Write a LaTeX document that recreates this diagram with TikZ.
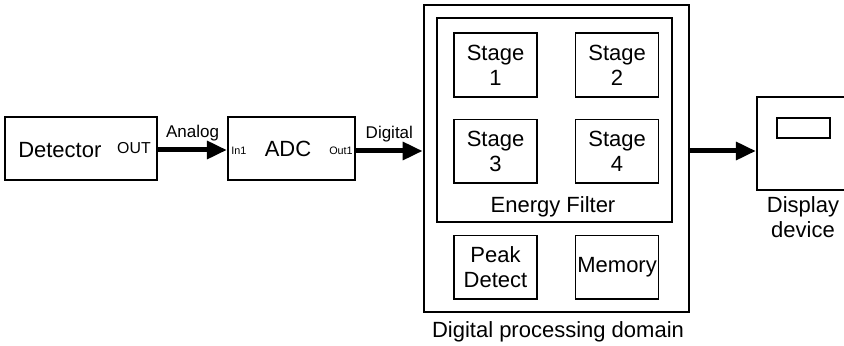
\documentclass[tikz,border=0pt]{standalone}
\usepackage{fontspec}
\setmainfont{Liberation Sans}
\usetikzlibrary{arrows.meta,positioning}

\begin{document}
\begin{tikzpicture}[x=0.75pt,y=-0.75pt]
  \tikzset{
    block/.style={draw, line width=1.6pt, inner sep=0pt, font=\fontsize{16.5}{18.75}\selectfont},
    stagebox/.style={draw, line width=1.2pt, align=center, inner sep=0pt,
      minimum width=62.25pt, minimum height=47.6pt, font=\fontsize{16.5}{18.75}\selectfont},
    port/.style={inner sep=0pt, font=\fontsize{8.1}{9}\selectfont},
    sig/.style={inner sep=0pt, font=\fontsize{12.75}{14}\selectfont},
    caption/.style={inner sep=0pt, align=center, font=\fontsize{16.5}{18.75}\selectfont},
    bigarrow/.style={-{Triangle[length=15pt,width=13pt]}, line width=3.75pt},
  }

  \clip (0,0) rectangle (844,346);

  % source side
  \node[block, minimum width=114pt, minimum height=47.25pt] (det) at (81,148.5) {};
  \node[caption, anchor=west] (dettext) at (18,150) {Detector};
  \node[sig, font=\fontsize{11.9}{13}\selectfont, anchor=east] (detout) at (151,148) {OUT};
  \node[block, minimum width=95.25pt, minimum height=47.25pt] (adc) at (291.5,148.5) {};
  \node[caption] (adctext) at (288,149) {ADC};
  \node[port, anchor=west] (adcin) at (231,151) {In1};
  \node[port, anchor=east] (adcout) at (353,151) {Out1};

  % processing
  \node[draw, line width=2pt, minimum width=198.75pt, minimum height=230.25pt] (main) at (556.5,158.5) {};
  \node[draw, line width=0.8pt, minimum width=176.25pt, minimum height=153pt] (filter) at (554.5,120) {};
  \node[stagebox] (st1) at (495.5,65) {Stage\\1};
  \node[stagebox, right=27.75pt of st1] (st2) {Stage\\2};
  \node[stagebox, below=15.75pt of st1] (st3) {Stage\\3};
  \node[stagebox, right=27.75pt of st3] (st4) {Stage\\4};
  \node[caption] (filtertext) at (553,207) {Energy Filter};
  \node[stagebox, below=38.25pt of st3] (peak) {Peak\\Detect};
  \node[stagebox, right=27.75pt of peak] (mem) {Memory};
  \node[caption] (maintext) at (558,332) {Digital processing domain};

  % display, cut off at the right edge
  \node[block, minimum width=112.5pt, minimum height=69.75pt] (disp) at (832,143.5) {};
  \node[draw, line width=0.8pt, minimum width=39.75pt, minimum height=15pt, inner sep=0pt] (screen) at (803.5,128) {};
  \node[caption] (disptext) at (803,217.5) {Display\\device};

  % connections
  \draw[bigarrow] (det.east |- 0,150) -- (adc.west |- 0,150) node[sig, midway, above=5pt] (analog) {Analog};
  \draw[bigarrow] (adc.east |- 0,151) -- (main.west |- 0,151) node[sig, midway, above=5pt] (digital) {Digital};
  \draw[bigarrow] (main.east |- 0,151) -- (disp.west |- 0,151);

\end{tikzpicture}
\end{document}
